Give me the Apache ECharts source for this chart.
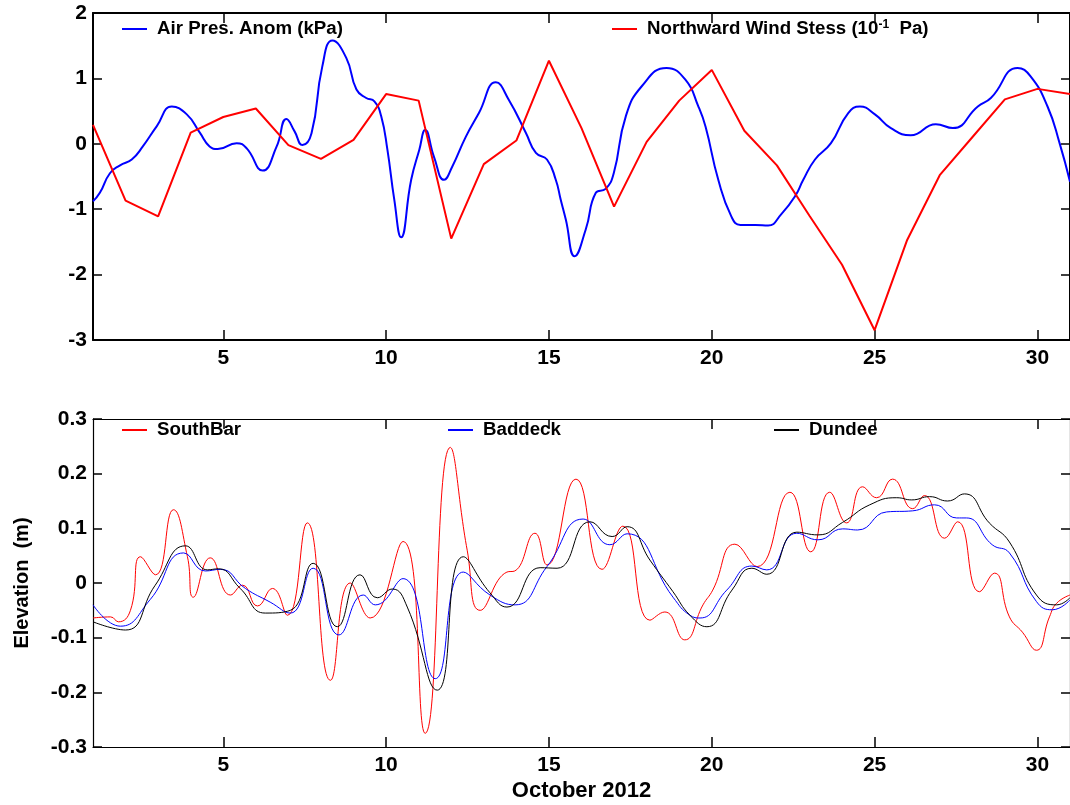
<!DOCTYPE html>
<html>
<head>
<meta charset="utf-8">
<script src="https://cdn.jsdelivr.net/npm/echarts@6/dist/echarts.min.js"></script>
<style>
  html, body { margin: 0; padding: 0; background: #fff; }
  #chart { width: 1070px; height: 805px; }
</style>
</head>
<body>
<div id="chart"></div>
<script>
// Day-of-month ticks shared by both panels
const dayTicks = [5, 10, 15, 20, 25, 30];

// Upper panel: air pressure anomaly (kPa), [day, value]
const airPressure = [
  [1.00, -0.88], [1.21, -0.75], [1.52, -0.45], [1.83, -0.33], [2.19, -0.24], [2.53, -0.04],
  [2.96, 0.27], [3.42, 0.57], [3.88, 0.45], [4.28, 0.17], [4.58, -0.04], [4.83, -0.08],
  [5.41, 0.01], [5.72, -0.07], [6.21, -0.41], [6.64, -0.04], [6.94, 0.38], [7.19, 0.19],
  [7.43, -0.02], [7.71, 0.16], [8.04, 1.18], [8.35, 1.58], [8.78, 1.31], [9.09, 0.83],
  [9.39, 0.70], [9.64, 0.65], [9.85, 0.42], [10.04, -0.09], [10.25, -0.85], [10.46, -1.43],
  [10.77, -0.55], [11.02, -0.09], [11.20, 0.21], [11.47, -0.20], [11.78, -0.55], [12.03, -0.35],
  [12.45, 0.11], [12.85, 0.47], [13.37, 0.94], [13.77, 0.67], [14.29, 0.17], [14.60, -0.14],
  [14.94, -0.24], [15.21, -0.55], [15.36, -0.85], [15.52, -1.16], [15.79, -1.72], [16.13, -1.31],
  [16.44, -0.75], [16.74, -0.69], [16.99, -0.45], [17.36, 0.42], [17.85, 0.88], [18.61, 1.16],
  [19.19, 0.98], [19.59, 0.57], [19.81, 0.26], [20.20, -0.55], [20.60, -1.11], [20.88, -1.24],
  [21.34, -1.24], [21.73, -1.25], [22.13, -1.08], [22.56, -0.80], [22.81, -0.55], [23.17, -0.24],
  [23.66, 0.01], [24.19, 0.47], [24.55, 0.57], [25.01, 0.45], [25.50, 0.24], [26.11, 0.13],
  [26.88, 0.30], [27.40, 0.24], [28.17, 0.57], [28.57, 0.70], [29.39, 1.16], [29.79, 1.03],
  [30.31, 0.57], [30.68, 0.01], [31.00, -0.58]
];

// Upper panel: daily northward wind stress (10^-1 Pa)
const windDays = [1, 2, 3, 4, 5, 6, 7, 8, 9, 10, 11, 12, 13, 14, 15, 16, 17, 18, 19, 20,
                  21, 22, 23, 24, 25, 26, 27, 28, 29, 30, 31];
const windStress = [0.29, -0.87, -1.11, 0.17, 0.41, 0.54, -0.02, -0.23, 0.06, 0.76, 0.66,
                    -1.45, -0.31, 0.05, 1.27, 0.24, -0.96, 0.03, 0.66, 1.13, 0.20, -0.33,
                    -1.10, -1.85, -2.85, -1.47, -0.48, 0.10, 0.68, 0.84, 0.76];

// Lower panel: water elevation (m), [day, value]
const southBar = [
  [1.00, -0.064], [1.54, -0.062], [1.78, -0.071], [2.15, -0.050], [2.46, 0.048], [2.92, 0.015],
  [3.47, 0.134], [3.90, 0.048], [4.08, -0.026], [4.60, 0.046], [5.22, -0.022], [5.59, -0.004],
  [6.05, -0.042], [6.51, -0.010], [6.97, -0.059], [7.58, 0.110], [8.29, -0.178], [8.90, 0.000],
  [9.51, -0.064], [10.52, 0.076], [11.20, -0.275], [11.97, 0.248], [12.49, 0.060], [12.89, -0.050],
  [13.71, 0.020], [13.95, 0.022], [14.57, 0.091], [14.94, 0.033], [15.83, 0.190], [16.63, 0.025],
  [17.27, 0.104], [18.10, -0.068], [18.56, -0.053], [19.17, -0.104], [19.73, -0.040], [20.03, -0.013],
  [20.71, 0.071], [21.39, 0.030], [22.40, 0.166], [23.04, 0.057], [23.62, 0.166], [24.14, 0.110],
  [24.63, 0.176], [25.06, 0.156], [25.55, 0.190], [26.17, 0.136], [26.53, 0.160], [27.15, 0.082],
  [27.55, 0.112], [28.22, -0.016], [28.68, 0.018], [29.14, -0.062], [29.54, -0.090], [29.97, -0.123],
  [30.37, -0.062], [30.59, -0.037], [31.00, -0.022]
];
const baddeck = [
  [1.00, -0.040], [1.84, -0.079], [2.76, -0.030], [3.78, 0.055], [4.45, 0.022], [4.91, 0.025],
  [5.68, -0.010], [6.44, -0.035], [7.06, -0.055], [7.76, 0.027], [8.55, -0.095], [9.30, -0.022],
  [9.67, -0.040], [10.52, 0.008], [11.51, -0.175], [12.37, 0.020], [13.19, -0.022], [13.96, -0.040],
  [14.94, 0.030], [16.05, 0.117], [16.87, 0.070], [17.40, 0.090], [18.81, -0.026], [19.33, -0.059],
  [19.64, -0.064], [20.46, -0.013], [21.23, 0.031], [21.69, 0.024], [22.61, 0.091], [23.26, 0.079],
  [24.02, 0.099], [24.48, 0.097], [25.37, 0.130], [26.17, 0.132], [26.84, 0.143], [27.52, 0.119],
  [27.82, 0.119], [28.61, 0.070], [29.14, 0.055], [29.97, -0.034], [30.46, -0.049], [31.00, -0.031]
];
const dundee = [
  [1.00, -0.071], [2.00, -0.086], [2.90, -0.005], [3.84, 0.068], [4.51, 0.024], [4.85, 0.026],
  [5.52, -0.010], [6.29, -0.055], [7.06, -0.050], [7.76, 0.036], [8.50, -0.080], [9.20, 0.015],
  [9.73, -0.027], [10.19, -0.011], [10.65, -0.044], [11.57, -0.196], [12.37, 0.048], [13.19, -0.018],
  [13.71, -0.044], [14.73, 0.028], [15.25, 0.027], [16.26, 0.112], [16.94, 0.085], [17.40, 0.103],
  [18.10, 0.042], [18.81, -0.016], [19.33, -0.059], [19.85, -0.080], [20.62, -0.013], [21.23, 0.027],
  [21.69, 0.016], [22.61, 0.093], [23.26, 0.088], [24.02, 0.111], [24.85, 0.143], [25.68, 0.156],
  [26.14, 0.152], [26.69, 0.158], [27.24, 0.150], [27.76, 0.163], [28.52, 0.110], [29.14, 0.075],
  [29.97, -0.022], [30.59, -0.040], [31.00, -0.027]
];

const FONT = 'Liberation Sans, Arial, sans-serif';
const chart = echarts.init(document.getElementById('chart'), null, { renderer: 'canvas' });

// Boxed axes with inward ticks on all four sides
function xAxes(gridIndex, lineW, withName) {
  const common = {
    type: 'value', gridIndex, min: 1, max: 31,
    splitLine: { show: false },
    axisLine: { show: true, onZero: false, lineStyle: { color: '#000', width: lineW } },
    axisTick: { show: true, inside: true, length: 10, customValues: dayTicks,
                lineStyle: { color: '#000', width: 1.5 } }
  };
  return [
    Object.assign({}, common, {
      position: 'bottom',
      axisLabel: { show: true, customValues: dayTicks, margin: 8, color: '#000',
                   fontFamily: FONT, fontWeight: 'bold', fontSize: 21 },
      name: withName ? 'October 2012' : '',
      nameLocation: 'middle', nameGap: 33,
      nameTextStyle: { color: '#000', fontFamily: FONT, fontWeight: 'bold', fontSize: 22 }
    }),
    Object.assign({}, common, { position: 'top', axisLabel: { show: false } })
  ];
}
function yAxes(gridIndex, min, max, interval, lineW, name) {
  const common = {
    type: 'value', gridIndex, min, max, interval,
    splitLine: { show: false },
    axisLine: { show: true, onZero: false, lineStyle: { color: '#000', width: lineW } },
    axisTick: { show: true, inside: true, length: 9, lineStyle: { color: '#000', width: 1.5 } }
  };
  return [
    Object.assign({}, common, {
      position: 'left',
      axisLabel: { show: true, margin: 6, color: '#000', fontFamily: FONT,
                   fontWeight: 'bold', fontSize: 21,
                   formatter: v => String(Math.round(v * 10) / 10) },
      name: name || '', nameLocation: 'middle', nameGap: 61, nameRotate: 90,
      nameTextStyle: { color: '#000', fontFamily: FONT, fontWeight: 'bold', fontSize: 20 }
    }),
    Object.assign({}, common, { position: 'right', axisLabel: { show: false } })
  ];
}

function legendAt(name, left, top, fmt) {
  return {
    data: [name], left, top, padding: 0, orient: 'horizontal',
    icon: 'rect', itemWidth: 25, itemHeight: 2, selectedMode: false,
    textStyle: {
      color: '#000', fontFamily: FONT, fontWeight: 'bold', fontSize: 18.7, lineHeight: 20,
      rich: {
        a: { color: '#000', fontFamily: FONT, fontWeight: 'bold', fontSize: 18.7, padding: [0, 0, 0, 5] },
        b: { color: '#000', fontFamily: FONT, fontWeight: 'bold', fontSize: 18.7 },
        s: { color: '#000', fontFamily: FONT, fontWeight: 'bold', fontSize: 12, verticalAlign: 'top', padding: [0, 0, 6, 0] }
      }
    },
    formatter: fmt || (n => '{a|' + n + '}')
  };
}

const windName = 'Northward Wind Stess (10-1 Pa)';

const option = {
  animation: false,
  backgroundColor: '#fff',
  grid: [
    { left: 93, top: 13, width: 979, height: 327 },
    { left: 93, top: 419, width: 979, height: 328 }
  ],
  xAxis: [...xAxes(0, 2, false), ...xAxes(1, 1.2, true)],
  yAxis: [...yAxes(0, -3, 2, 1, 2), ...yAxes(1, -0.3, 0.3, 0.1, 1.2, 'Elevation  (m)')],
  legend: [
    legendAt('Air Pres. Anom (kPa)', 122, 19),
    legendAt(windName, 612, 19, () => '{a|Northward Wind Stess (10}{s|-1}{b|  Pa)}'),
    legendAt('SouthBar', 122, 420),
    legendAt('Baddeck', 448, 420),
    legendAt('Dundee', 774, 420)
  ],
  series: [
    { name: 'Air Pres. Anom (kPa)', type: 'line', xAxisIndex: 0, yAxisIndex: 0,
      data: airPressure, smooth: 0.5, showSymbol: false, color: '#0000ff',
      lineStyle: { width: 2, color: '#0000ff' } },
    { name: windName, type: 'line', xAxisIndex: 0, yAxisIndex: 0,
      data: windDays.map((d, i) => [d, windStress[i]]), showSymbol: false, color: '#ff0000',
      lineStyle: { width: 2, color: '#ff0000' } },
    { name: 'SouthBar', type: 'line', xAxisIndex: 2, yAxisIndex: 2,
      data: southBar, smooth: 0.5, showSymbol: false, color: '#ff0000',
      lineStyle: { width: 1, color: '#ff0000' } },
    { name: 'Baddeck', type: 'line', xAxisIndex: 2, yAxisIndex: 2,
      data: baddeck, smooth: 0.5, showSymbol: false, color: '#0000ff',
      lineStyle: { width: 1, color: '#0000ff' } },
    { name: 'Dundee', type: 'line', xAxisIndex: 2, yAxisIndex: 2,
      data: dundee, smooth: 0.5, showSymbol: false, color: '#000000',
      lineStyle: { width: 1, color: '#000000' } }
  ]
};
chart.setOption(option);
</script>
</body>
</html>
